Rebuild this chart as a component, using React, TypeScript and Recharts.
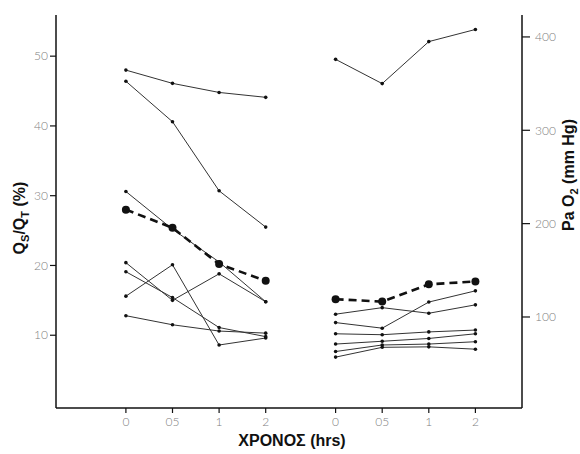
import React from "react";
import { LineChart, Line, XAxis, YAxis } from "recharts";

// x positions of the eight time points (two groups of four)
const leftTimes = [0, 1, 2, 3];
const rightTimes = [4.5, 5.5, 6.5, 7.5];
const timeTicks = [0, 1, 2, 3, 4.5, 5.5, 6.5, 7.5];
const timeLabels = ["0", "05", "1", "2", "0", "05", "1", "2"];

// Qs/Qt (%) – left group
const shuntA = [48.0, 46.1, 44.8, 44.1];
const shuntB = [46.4, 40.6, 30.7, 25.5];
const shuntC = [30.6, 25.2, 20.5, 14.8];
const shuntD = [15.6, 20.1, 8.6, 9.6];
const shuntE = [19.1, 15.4, 11.1, 9.8];
const shuntF = [12.8, 11.5, 10.6, 10.3];
const shuntG = [20.4, 15.0, 18.8, 14.8];
const shuntMean = [28.0, 25.4, 20.2, 17.8];

// PaO2 (mm Hg) – right group
const pao2A = [376, 350, 395, 408];
const pao2B = [103, 110, 104, 113];
const pao2C = [94, 88, 116, 128];
const pao2D = [82, 81, 84, 86];
const pao2E = [71, 74, 77, 82];
const pao2F = [63, 70, 71, 73.5];
const pao2G = [57, 67.5, 68, 65.5];
const pao2Mean = [119, 116.5, 135, 138];

const toData = (xs: number[], vs: number[]) => xs.map((x, i) => ({ x, v: vs[i] }));

const thinSeries = [
  { id: "sA", axis: "left", xs: leftTimes, vs: shuntA },
  { id: "sB", axis: "left", xs: leftTimes, vs: shuntB },
  { id: "sC", axis: "left", xs: leftTimes, vs: shuntC },
  { id: "sD", axis: "left", xs: leftTimes, vs: shuntD },
  { id: "sE", axis: "left", xs: leftTimes, vs: shuntE },
  { id: "sF", axis: "left", xs: leftTimes, vs: shuntF },
  { id: "sG", axis: "left", xs: leftTimes, vs: shuntG },
  { id: "pA", axis: "right", xs: rightTimes, vs: pao2A },
  { id: "pB", axis: "right", xs: rightTimes, vs: pao2B },
  { id: "pC", axis: "right", xs: rightTimes, vs: pao2C },
  { id: "pD", axis: "right", xs: rightTimes, vs: pao2D },
  { id: "pE", axis: "right", xs: rightTimes, vs: pao2E },
  { id: "pF", axis: "right", xs: rightTimes, vs: pao2F },
  { id: "pG", axis: "right", xs: rightTimes, vs: pao2G },
];

const meanSeries = [
  { id: "sMean", axis: "left", xs: leftTimes, vs: shuntMean },
  { id: "pMean", axis: "right", xs: rightTimes, vs: pao2Mean },
];

const SmallDot = (props: any) => {
  const { cx, cy, index } = props;
  if (cx == null || cy == null) return <g key={index} />;
  return <circle key={index} cx={cx} cy={cy} r={1.8} fill="#111" />;
};

const BigDot = (props: any) => {
  const { cx, cy, index } = props;
  if (cx == null || cy == null) return <g key={index} />;
  return <circle key={index} cx={cx} cy={cy} r={4} fill="#111" />;
};

const tickStyle = { fill: "#808080", fontSize: 12, fontFamily: "Lato, 'DejaVu Sans', sans-serif", fontWeight: 300 };
const titleFont = "'Liberation Sans', Arial, sans-serif";

export default function App() {
  return (
    <div style={{ position: "absolute", left: 0, top: 0, width: 580, height: 454, background: "#fff" }}>
      <LineChart width={580} height={454} margin={{ top: 15, right: 10, bottom: 0, left: 10 }}>
        <XAxis
          type="number"
          dataKey="x"
          domain={[-1.5, 8.5]}
          ticks={timeTicks}
          tickFormatter={(v: number) => timeLabels[timeTicks.indexOf(v)] ?? ""}
          height={46}
          tickSize={5}
          tickMargin={4}
          tick={tickStyle}
          axisLine={{ stroke: "#111", strokeWidth: 1.5 }}
          tickLine={{ stroke: "#111", strokeWidth: 1.2 }}
          allowDataOverflow
        />
        <YAxis
          yAxisId="left"
          orientation="left"
          type="number"
          domain={[-0.43, 55.9]}
          ticks={[10, 20, 30, 40, 50]}
          width={46}
          tickSize={6}
          tickMargin={2}
          tick={tickStyle}
          axisLine={{ stroke: "#111", strokeWidth: 1.5 }}
          tickLine={{ stroke: "#111", strokeWidth: 1.2 }}
          allowDataOverflow
        />
        <YAxis
          yAxisId="right"
          orientation="right"
          type="number"
          domain={[2.5, 423.5]}
          ticks={[100, 200, 300, 400]}
          width={48}
          tickSize={8}
          tickMargin={5}
          tick={tickStyle}
          axisLine={{ stroke: "#111", strokeWidth: 1.5 }}
          tickLine={{ stroke: "#111", strokeWidth: 1.2 }}
          allowDataOverflow
        />
        {thinSeries.map((s) => (
          <Line
            key={s.id}
            yAxisId={s.axis}
            data={toData(s.xs, s.vs)}
            dataKey="v"
            type="linear"
            stroke="#333"
            strokeWidth={1}
            dot={<SmallDot />}
            activeDot={false}
            isAnimationActive={false}
          />
        ))}
        {meanSeries.map((s) => (
          <Line
            key={s.id}
            yAxisId={s.axis}
            data={toData(s.xs, s.vs)}
            dataKey="v"
            type="linear"
            stroke="#111"
            strokeWidth={2.6}
            strokeDasharray="8 5"
            dot={<BigDot />}
            activeDot={false}
            isAnimationActive={false}
          />
        ))}
      </LineChart>
      <svg width={580} height={454} style={{ position: "absolute", left: 0, top: 0, pointerEvents: "none" }}>
        <text transform="translate(25,218) rotate(-90)" textAnchor="middle" fontFamily={titleFont} fontWeight="bold" fontSize={16} fill="#111">
          Q<tspan fontSize={11} dy={4}>S</tspan>
          <tspan dy={-4}>/Q</tspan>
          <tspan fontSize={11} dy={4}>T</tspan>
          <tspan dy={-4}> (%)</tspan>
        </text>
        <text transform="translate(574,175) rotate(-90)" textAnchor="middle" fontFamily={titleFont} fontWeight="bold" fontSize={16} fill="#111">
          Pa O<tspan fontSize={11} dy={4}>2</tspan>
          <tspan dy={-4}> (mm Hg)</tspan>
        </text>
        <text x={292} y={446} textAnchor="middle" fontFamily={titleFont} fontWeight="bold" fontSize={16} fill="#111">
          ΧΡΟΝΟΣ (hrs)
        </text>
      </svg>
    </div>
  );
}
